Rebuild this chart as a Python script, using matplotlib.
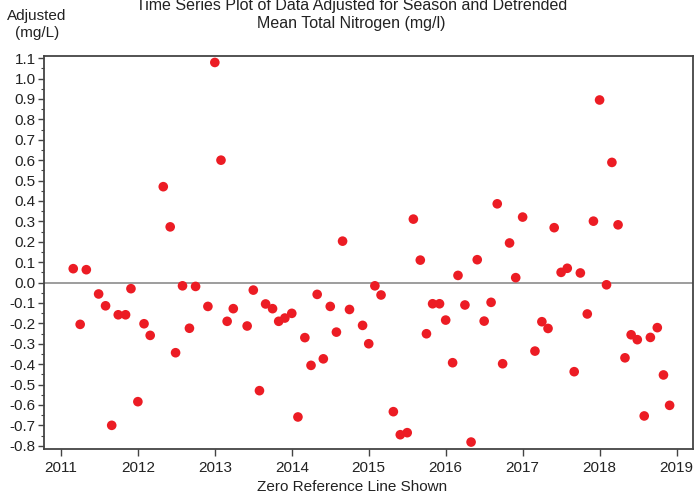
import matplotlib
matplotlib.use("Agg")
import matplotlib.pyplot as plt
from matplotlib.ticker import MultipleLocator

plt.rcParams['font.family'] = ['Liberation Sans', 'DejaVu Sans']

# decimal year of each sample, and the adjusted value (mg/L)
years = [2011.16, 2011.25, 2011.33, 2011.49, 2011.58, 2011.66, 2011.745, 2011.84,
         2011.91, 2012.0, 2012.08, 2012.16, 2012.33, 2012.42, 2012.49, 2012.58,
         2012.67, 2012.75, 2012.91, 2013.0, 2013.08, 2013.16, 2013.24, 2013.42,
         2013.50, 2013.58, 2013.66, 2013.75, 2013.83, 2013.91, 2014.0, 2014.08,
         2014.17, 2014.25, 2014.33, 2014.41, 2014.50, 2014.58, 2014.66, 2014.75,
         2014.92, 2015.0, 2015.08, 2015.16, 2015.32, 2015.41, 2015.50, 2015.58,
         2015.67, 2015.75, 2015.83, 2015.92, 2016.0, 2016.09, 2016.16, 2016.25,
         2016.33, 2016.41, 2016.50, 2016.59, 2016.67, 2016.74, 2016.83, 2016.91,
         2017.0, 2017.16, 2017.25, 2017.33, 2017.41, 2017.50, 2017.58, 2017.67,
         2017.75, 2017.84, 2017.92, 2018.0, 2018.09, 2018.16, 2018.24, 2018.33,
         2018.41, 2018.49, 2018.58, 2018.66, 2018.75, 2018.83, 2018.91]
adjusted = [0.068, -0.205, 0.063, -0.056, -0.114, -0.700, -0.158, -0.158,
            -0.030, -0.584, -0.202, -0.259, 0.470, 0.273, -0.344, -0.016,
            -0.224, -0.019, -0.117, 1.079, 0.600, -0.190, -0.128, -0.213,
            -0.037, -0.530, -0.105, -0.128, -0.190, -0.174, -0.151, -0.659,
            -0.270, -0.406, -0.058, -0.374, -0.117, -0.243, 0.203, -0.132,
            -0.210, -0.300, -0.016, -0.061, -0.633, -0.746, -0.736, 0.311,
            0.110, -0.251, -0.104, -0.104, -0.184, -0.393, 0.035, -0.110,
            -0.782, 0.112, -0.189, -0.097, 0.386, -0.398, 0.194, 0.024,
            0.321, -0.336, -0.192, -0.225, 0.269, 0.050, 0.070, -0.437,
            0.047, -0.154, 0.301, 0.895, -0.011, 0.589, 0.283, -0.369,
            -0.256, -0.280, -0.654, -0.269, -0.221, -0.453, -0.602]
year_ticks = list(range(2011, 2020))
y_ticks = [round(-0.8 + 0.1 * i, 1) for i in range(20)]

fig = plt.figure(figsize=(6.95, 4.98), dpi=100)
ax = fig.add_axes([0.0633, 0.0984, 0.9345, 0.7897])

ax.axhline(0, color='#8c8c8c', lw=1.2, zorder=1)
ax.scatter(years, adjusted, s=48, color='#ec1c24', edgecolors='none', zorder=3)

ax.set_xlim(2010.78, 2019.22)
ax.set_ylim(-0.816, 1.112)
ax.set_xticks(year_ticks)
ax.set_xticklabels([str(y) for y in year_ticks])
ax.set_yticks(y_ticks)
ax.set_yticklabels(['%.1f' % v for v in y_ticks])
ax.yaxis.set_minor_locator(MultipleLocator(0.05))

for s in ax.spines.values():
    s.set_color('#444444')
    s.set_linewidth(1.3)
ax.tick_params(axis='both', which='major', direction='out', length=4, width=1,
               color='#444444', labelsize=11, labelcolor='#222222', pad=2)
ax.tick_params(axis='y', which='minor', direction='out', length=2, width=0.8,
               color='#444444')
ax.tick_params(axis='x', which='major', length=5, pad=4)

fig.text(0.506, 0.971, 'Time Series Plot of Data Adjusted for Season and Detrended\nMean Total Nitrogen (mg/l)',
         ha='center', va='center', fontsize=11.5, color='#222222', linespacing=1.3)
fig.text(0.053, 0.951, 'Adjusted\n(mg/L)', ha='center', va='center', fontsize=11,
         color='#222222', linespacing=1.2)
fig.text(0.506, 0.022, 'Zero Reference Line Shown', ha='center', va='center',
         fontsize=11, color='#222222')

fig.savefig('out.png', dpi=100)
